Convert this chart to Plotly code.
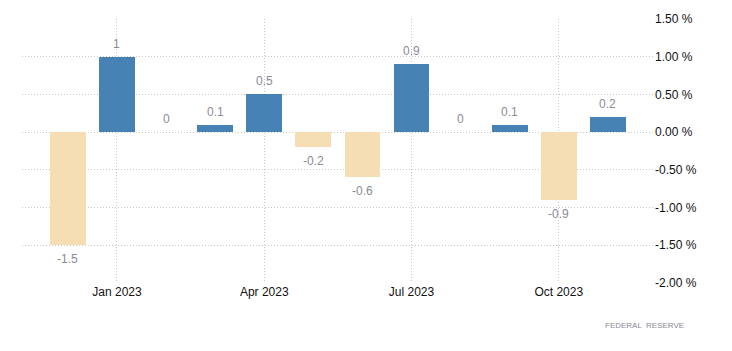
import plotly.graph_objects as go

months = ["Dec 2022", "Jan 2023", "Feb 2023", "Mar 2023", "Apr 2023", "May 2023",
          "Jun 2023", "Jul 2023", "Aug 2023", "Sep 2023", "Oct 2023", "Nov 2023"]
values = [-1.5, 1, 0, 0.1, 0.5, -0.2, -0.6, 0.9, 0, 0.1, -0.9, 0.2]
labels = ["-1.5", "1", "0", "0.1", "0.5", "-0.2", "-0.6", "0.9", "0", "0.1", "-0.9", "0.2"]
tick_idx = [1, 4, 7, 10]
tick_text = ["Jan 2023", "Apr 2023", "Jul 2023", "Oct 2023"]
y_ticks = [-2.0, -1.5, -1.0, -0.5, 0.0, 0.5, 1.0, 1.5]
y_tick_text = ["%.2f %%" % v for v in y_ticks]

x = list(range(len(months)))
colors = ["#4682B4" if v >= 0 else "#F5DEB3" for v in values]

fig = go.Figure()
fig.add_trace(go.Bar(x=x, y=values, marker_color=colors, marker_line_width=0,
                     width=0.73, hovertext=months))

for i, (v, t) in enumerate(zip(values, labels)):
    fig.add_annotation(x=i, y=v, text=t, showarrow=False,
                       yshift=13 if v >= 0 else -14,
                       font=dict(size=12, color="#8a8a96", family="Liberation Sans, Arial"))

fig.add_annotation(x=1, y=0, xref="paper", yref="paper", text="FEDERAL  RESERVE",
                   showarrow=False, xanchor="right", yanchor="middle",
                   xshift=32, yshift=-42,
                   font=dict(size=8, color="#8a8a96", family="Liberation Sans, Arial"))

grid_dash = "1px,2px"
fig.update_layout(
    width=732, height=351,
    margin=dict(l=22, r=78, t=19, b=68),
    paper_bgcolor="white", plot_bgcolor="white",
    showlegend=False,
    bargap=0,
    font=dict(family="Liberation Sans, Arial", size=12, color="#000"),
)
fig.update_xaxes(range=[-0.935, 11.94], tickmode="array", tickvals=tick_idx, ticktext=tick_text,
                 showgrid=True, gridcolor="#c8c8c8", griddash=grid_dash, gridwidth=1,
                 zeroline=False, showline=False, ticks="", tickfont=dict(size=12, color="#111"))
fig.update_yaxes(range=[-2.0, 1.5], side="right", tickmode="array", tickvals=y_ticks,
                 ticktext=y_tick_text,
                 showgrid=True, gridcolor="#c8c8c8", griddash=grid_dash, gridwidth=1,
                 zeroline=False, showline=False, ticks="", tickfont=dict(size=12, color="#111"))

fig.write_html("out.html")
